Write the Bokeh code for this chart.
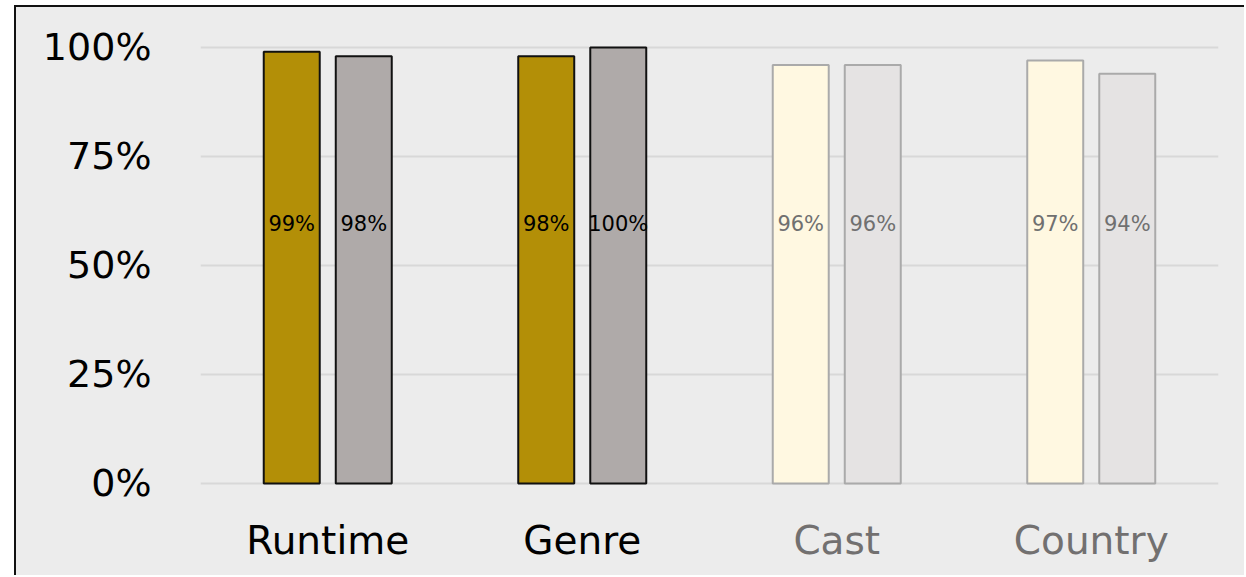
from bokeh.plotting import figure
from bokeh.models import FactorRange, Range1d, FixedTicker, ColumnDataSource, NumeralTickFormatter
from bokeh.transform import dodge
from bokeh.core.properties import value
from bokeh.embed import file_html
from bokeh.resources import INLINE

# Completeness of each field, two sources compared side by side
categories = ["Runtime", "Genre", "Cast", "Country"]
source_a = [0.99, 0.98, 0.96, 0.97]   # gold series
source_b = [0.98, 1.00, 0.96, 0.94]   # grey series
highlighted = ["Runtime", "Genre"]
y_ticks = [0, 0.25, 0.5, 0.75, 1.0]

FONT = "DejaVu Sans"
BG = "#ececec"

def pct(v):
    return f"{round(v * 100)}%"

is_hl = [c in highlighted for c in categories]
src = ColumnDataSource(dict(
    cat=categories,
    a=source_a,
    b=source_b,
    a_label=[pct(v) for v in source_a],
    b_label=[pct(v) for v in source_b],
    a_fill=["#b38f07" if h else "#fff8e1" for h in is_hl],
    b_fill=["#afaaa9" if h else "#e5e3e3" for h in is_hl],
    edge=["#111111" if h else "#aaaaaa" for h in is_hl],
    text_col=["#000000" if h else "#707070" for h in is_hl],
    cat_col=["#000000" if h else "#727070" for h in is_hl],
    zero=[0] * len(categories),
    label_y=[0.596] * len(categories),
    cat_y=[-0.13] * len(categories),
))

p = figure(
    width=1230, height=570,
    x_range=FactorRange(*categories, range_padding=0),
    y_range=Range1d(-0.2156, 1.0917),
    output_backend="svg", toolbar_location=None,
    min_border_left=184, min_border_right=28, min_border_top=0, min_border_bottom=0,
    background_fill_color=None, border_fill_color=BG,
)
p.outline_line_color = None
p.margin = (5, 0, 0, 14)
p.styles = {"border-left": "2px solid #111", "border-top": "2px solid #111",
            "background-color": BG}

p.xaxis.visible = False
p.xgrid.grid_line_color = None
p.ygrid.grid_line_color = "#d8d8d8"
p.ygrid.grid_line_width = 2

yax = p.yaxis[0]
yax.ticker = FixedTicker(ticks=y_ticks)
yax.formatter = NumeralTickFormatter(format="0%")
yax.axis_line_color = None
yax.major_tick_line_color = None
yax.minor_tick_line_color = None
yax.major_label_standoff = 43
yax.major_label_text_font = FONT
yax.major_label_text_font_size = "38px"
yax.major_label_text_color = "#000000"

off = 0.1415
w = 0.22
p.vbar(x=dodge("cat", -off, range=p.x_range), bottom="zero", top="a", width=w, source=src,
       fill_color="a_fill", line_color="edge", line_width=2)
p.vbar(x=dodge("cat", off, range=p.x_range), bottom="zero", top="b", width=w, source=src,
       fill_color="b_fill", line_color="edge", line_width=2)

p.text(x=dodge("cat", -off, range=p.x_range), y="label_y", text="a_label", source=src,
       text_align="center", text_baseline="middle", text_font=value(FONT),
       text_font_size="21px", text_color="text_col")
p.text(x=dodge("cat", off, range=p.x_range), y="label_y", text="b_label", source=src,
       text_align="center", text_baseline="middle", text_font=value(FONT),
       text_font_size="21px", text_color="text_col")

# category names under the bars
p.text(x="cat", y="cat_y", text="cat", source=src,
       text_align="center", text_baseline="middle", text_font=value(FONT),
       text_font_size="39px", text_color="cat_col")

open("out.html", "w").write(file_html(p, INLINE))
